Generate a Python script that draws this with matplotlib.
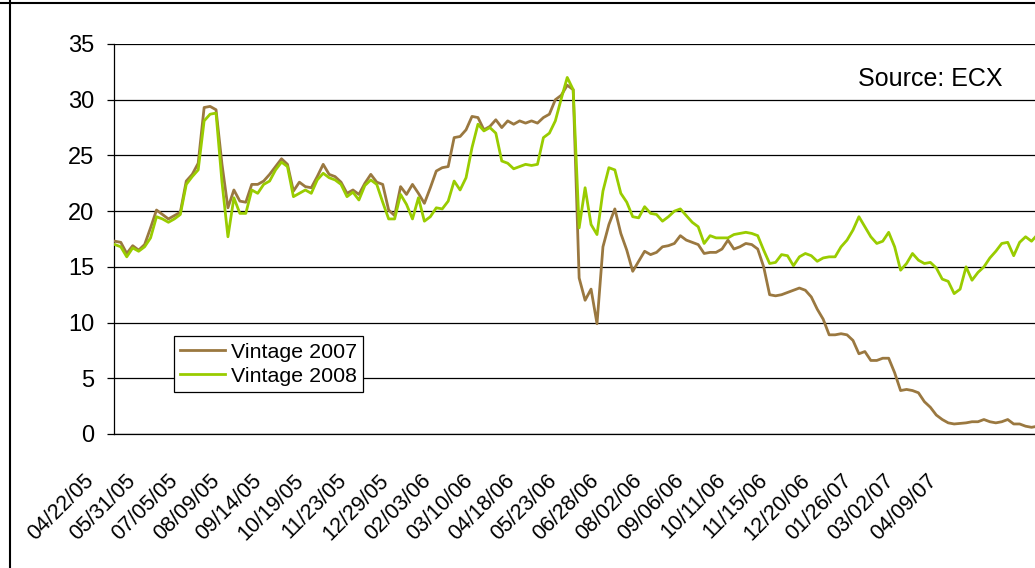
import numpy as np
import matplotlib
matplotlib.use("Agg")
import matplotlib.pyplot as plt
from matplotlib.lines import Line2D
from matplotlib.transforms import ScaledTranslation

plt.rcParams['font.family'] = ['Liberation Sans', 'DejaVu Sans']

# ---- data (one value every ~3.53 trading days) ----
STEP = 3.53
vintage_2007 = [
    17.3, 17.2, 16.2, 16.9, 16.5, 17.0, 18.5, 20.1, 19.7, 19.3,
    19.6, 19.9, 22.7, 23.3, 24.3, 29.3, 29.4, 29.1, 24.2, 20.3,
    21.9, 20.9, 20.8, 22.4, 22.4, 22.7, 23.3, 24.0, 24.7, 24.2,
    21.8, 22.6, 22.2, 22.1, 23.1, 24.2, 23.3, 23.1, 22.6, 21.6,
    21.9, 21.5, 22.5, 23.3, 22.6, 22.4, 20.1, 19.6, 22.2, 21.5,
    22.4, 21.6, 20.7, 22.1, 23.6, 23.9, 24.0, 26.6, 26.7, 27.3,
    28.5, 28.4, 27.3, 27.6, 28.2, 27.5, 28.1, 27.8, 28.1, 27.9,
    28.1, 27.9, 28.4, 28.7, 30.0, 30.4, 31.3, 30.9, 14.0, 12.0,
    13.0, 9.9, 16.8, 18.8, 20.2, 18.0, 16.5, 14.6, 15.5, 16.4,
    16.1, 16.3, 16.8, 16.9, 17.1, 17.8, 17.4, 17.2, 17.0, 16.2,
    16.3, 16.3, 16.6, 17.4, 16.6, 16.8, 17.1, 17.0, 16.6, 15.0,
    12.5, 12.4, 12.5, 12.7, 12.9, 13.1, 12.9, 12.3, 11.2, 10.3,
    8.9, 8.9, 9.0, 8.9, 8.4, 7.2, 7.4, 6.6, 6.6, 6.8,
    6.8, 5.5, 3.9, 4.0, 3.9, 3.7, 2.9, 2.4, 1.7, 1.3,
    1.0, 0.9, 0.95, 1.0, 1.1, 1.1, 1.3, 1.1, 1.0, 1.1,
    1.3, 0.9, 0.9, 0.7, 0.6, 0.7,
]
vintage_2008 = [
    17.0, 16.8, 15.9, 16.7, 16.4, 16.8, 17.6, 19.5, 19.3, 19.0,
    19.3, 19.7, 22.4, 23.1, 23.7, 28.1, 28.7, 28.8, 22.6, 17.7,
    21.2, 19.8, 19.8, 21.9, 21.6, 22.4, 22.7, 23.7, 24.4, 24.0,
    21.3, 21.6, 21.9, 21.6, 22.8, 23.4, 23.0, 22.8, 22.4, 21.3,
    21.7, 21.0, 22.3, 22.8, 22.4, 20.8, 19.3, 19.3, 21.5, 20.6,
    19.3, 21.2, 19.1, 19.5, 20.3, 20.2, 20.9, 22.7, 21.9, 23.0,
    25.7, 27.8, 27.2, 27.5, 27.0, 24.5, 24.3, 23.8, 24.0, 24.2,
    24.1, 24.2, 26.6, 27.0, 28.1, 30.1, 32.0, 30.9, 18.5, 22.1,
    18.8, 17.9, 21.8, 23.9, 23.7, 21.6, 20.8, 19.5, 19.4, 20.4,
    19.8, 19.7, 19.1, 19.5, 20.0, 20.2, 19.6, 19.0, 18.6, 17.1,
    17.8, 17.6, 17.6, 17.6, 17.9, 18.0, 18.1, 18.0, 17.8, 16.5,
    15.3, 15.4, 16.1, 16.0, 15.1, 15.9, 16.2, 16.0, 15.5, 15.8,
    15.9, 15.9, 16.8, 17.4, 18.3, 19.5, 18.6, 17.7, 17.1, 17.3,
    18.1, 16.8, 14.7, 15.3, 16.2, 15.6, 15.3, 15.4, 14.9, 13.9,
    13.7, 12.6, 13.0, 15.0, 13.8, 14.5, 15.0, 15.8, 16.4, 17.1,
    17.2, 16.0, 17.2, 17.7, 17.3, 17.9,
]
tick_labels = ["04/22/05", "05/31/05", "07/05/05", "08/09/05", "09/14/05",
               "10/19/05", "11/23/05", "12/29/05", "02/03/06", "03/10/06",
               "04/18/06", "05/23/06", "06/28/06", "08/02/06", "09/06/06",
               "10/11/06", "11/15/06", "12/20/06", "01/26/07", "03/02/07",
               "04/09/07"]
TICK_EVERY = 25
series_names = ["Vintage 2007", "Vintage 2008"]
colors = ["#9A7840", "#99CC00"]

W, H = 1035, 568
PX_PER_DAY = 1.686
fig = plt.figure(figsize=(W / 100, H / 100), dpi=100)
ax = fig.add_axes([114 / W, 1 - 434 / H, 1 - 114 / W, (434 - 44) / H])

x07 = np.arange(len(vintage_2007)) * STEP
x08 = np.arange(len(vintage_2008)) * STEP
ax.plot(x07, vintage_2007, color=colors[0], lw=2.0, label=series_names[0],
        solid_joinstyle='round', zorder=3)
ax.plot(x08, vintage_2008, color=colors[1], lw=2.0, label=series_names[1],
        solid_joinstyle='round', zorder=4)

ax.set_ylim(0, 35)
ax.set_xlim(-0.5, (W - 115) / PX_PER_DAY)
ax.set_yticks(np.arange(0, 36, 5))
ax.yaxis.grid(True, color='black', lw=0.9)
ax.set_axisbelow(True)
for s in ['top', 'right']:
    ax.spines[s].set_visible(False)
for s in ['left', 'bottom']:
    ax.spines[s].set_linewidth(0.9)
ax.tick_params(axis='y', length=5, width=0.9, pad=9, labelsize=17)

ticks = np.arange(len(tick_labels)) * TICK_EVERY
ax.set_xticks(ticks)
ax.set_xticklabels([])
ax.tick_params(axis='x', length=0)
trans = ax.get_xaxis_transform() + ScaledTranslation(-0.32, -0.36, fig.dpi_scale_trans)
for t, lab in zip(ticks, tick_labels):
    ax.text(t, 0, lab, transform=trans, rotation=45, rotation_mode='anchor',
            ha='right', va='top', fontsize=15.5, clip_on=False)

leg = ax.legend(loc='lower left', bbox_to_anchor=((174 - 114) / (W - 114), (434 - 392) / 390),
                fontsize=15.4, frameon=True, fancybox=False, shadow=False,
                handlelength=2.1, handletextpad=0.25, borderpad=0.3,
                labelspacing=0.22, borderaxespad=0)
leg.get_frame().set_edgecolor('black')
leg.get_frame().set_linewidth(0.9)
leg.get_frame().set_alpha(1)

fig.text(1003 / W, 1 - 79 / H, "Source: ECX", ha='right', va='center', fontsize=18)

# outer frame lines (cropped chart border)
fig.add_artist(Line2D([0, 1], [1 - 2.5 / H, 1 - 2.5 / H], transform=fig.transFigure,
                      color='black', lw=1.5))
fig.add_artist(Line2D([10 / W, 10 / W], [0, 1], transform=fig.transFigure,
                      color='black', lw=1.5))

fig.savefig("out.png", dpi=100)
